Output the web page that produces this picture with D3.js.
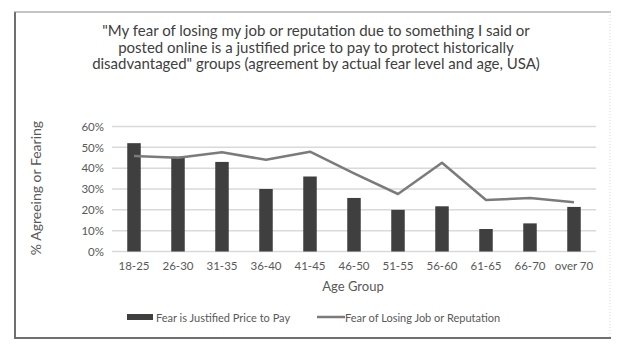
<!DOCTYPE html>
<html>
<head>
<meta charset="utf-8">
<script src="https://cdn.jsdelivr.net/npm/d3@7"></script>
<style>
  body{margin:0;background:#fff;}
  text{font-family:Lato, "Open Sans", sans-serif;fill:#404040;}
</style>
</head>
<body>
<svg id="chart" width="624" height="351"></svg>
<script>
// values
const ageGroups = ["18-25","26-30","31-35","36-40","41-45","46-50","51-55","56-60","61-65","66-70","over 70"];
const justified = [0.52,0.455,0.43,0.30,0.36,0.257,0.20,0.217,0.108,0.135,0.214];
const fearing = [0.458,0.45,0.476,0.44,0.479,0.375,0.276,0.426,0.247,0.257,0.236];
const yTicks = [0,0.1,0.2,0.3,0.4,0.5,0.6];
const titleLines = [
  "\"My fear of losing my job or reputation due to something I said or",
  "posted online is a justified price to pay to protect historically",
  "disadvantaged\" groups (agreement by actual fear level and age, USA)"
];

let svg = d3.select("#chart");

//frame round the chart
svg.append("line").attr("x1",15).attr("x2",15).attr("y1",12).attr("y2",338)
  .attr("stroke","#6f6f6f").attr("stroke-width",2);
svg.append("line").attr("x1",14).attr("x2",611).attr("y1",338).attr("y2",338)
  .attr("stroke","#6f6f6f").attr("stroke-width",2);
svg.append("line").attr("x1",14).attr("x2",611).attr("y1",12).attr("y2",12)
  .attr("stroke","#8a8a8a").attr("stroke-width",1);
svg.append("line").attr("x1",610).attr("x2",610).attr("y1",12).attr("y2",338)
  .attr("stroke","#d8d8d8").attr("stroke-width",1).attr("stroke-dasharray","1,2");

// title
svg.append("g").selectAll("text")
  .data(titleLines)
  .join("text")
  .attr("x",316)
  .attr("y",(d,i)=>36+i*16.5)
  .attr("text-anchor","middle")
  .style("font-size","15px")
  .text(d=>d);

let x = d3.scaleBand().domain(ageGroups).range([112,596]);
let y = d3.scaleLinear().domain([0,0.6]).range([251.5,126.5]);

// grid
svg.append("g").selectAll("line")
  .data(yTicks)
  .join("line")
  .attr("x1",112).attr("x2",596)
  .attr("y1",d=>y(d)).attr("y2",d=>y(d))
  .attr("stroke","#d9d9d9").attr("stroke-width",1.5);

// y axis
let yAxis = svg.append("g")
  .attr("transform","translate(112,0)")
  .call(d3.axisLeft(y).tickValues(yTicks).tickFormat(d3.format(".0%")).tickSize(0).tickPadding(8));
yAxis.select(".domain").remove();
yAxis.selectAll("text").style("font-size","11.5px").style("fill","#595959").style("font-family","Lato, sans-serif");

// x axis
let xAxis = svg.append("g")
  .attr("transform","translate(0,251.5)")
  .call(d3.axisBottom(x).tickSize(0).tickPadding(10));
xAxis.select(".domain").remove();
xAxis.selectAll("text").style("font-size","11.5px").style("fill","#595959").style("font-family","Lato, sans-serif");

// bars
let bw = 13.5;
svg.append("g").selectAll("rect")
  .data(justified)
  .join("rect")
  .attr("x",(d,i)=>x(ageGroups[i])+x.bandwidth()/2-bw/2)
  .attr("width",bw)
  .attr("y",d=>y(d))
  .attr("height",d=>y(0)-y(d))
  .attr("fill","#3f3f3f");

// line
let line = d3.line()
  .x((d,i)=>x(ageGroups[i])+x.bandwidth()/2)
  .y(d=>y(d));
svg.append("path")
  .datum(fearing)
  .attr("d",line)
  .attr("fill","none")
  .attr("stroke","#7b7b7b")
  .attr("stroke-width",2.5)
  .attr("stroke-linejoin","round");

// axis titles
svg.append("text")
  .attr("x",353).attr("y",291)
  .attr("text-anchor","middle")
  .style("font-size","13px")
  .style("fill","#595959")
  .text("Age Group");
svg.append("text")
  .attr("transform","translate(41,188) rotate(-90)")
  .attr("text-anchor","middle")
  .style("font-size","14px")
  .style("fill","#595959")
  .text("% Agreeing or Fearing");

// legend
let legend = svg.append("g");
legend.append("rect").attr("x",127).attr("y",314).attr("width",26).attr("height",6).attr("fill","#3f3f3f");
legend.append("text").attr("x",156).attr("y",321.5).style("font-size","11px").style("fill","#595959")
  .text("Fear is Justified Price to Pay");
legend.append("line").attr("x1",317).attr("x2",345).attr("y1",317).attr("y2",317)
  .attr("stroke","#7b7b7b").attr("stroke-width",2.5);
legend.append("text").attr("x",345).attr("y",321.5).style("font-size","11px").style("fill","#595959")
  .text("Fear of Losing Job or Reputation");
</script>
</body>
</html>
